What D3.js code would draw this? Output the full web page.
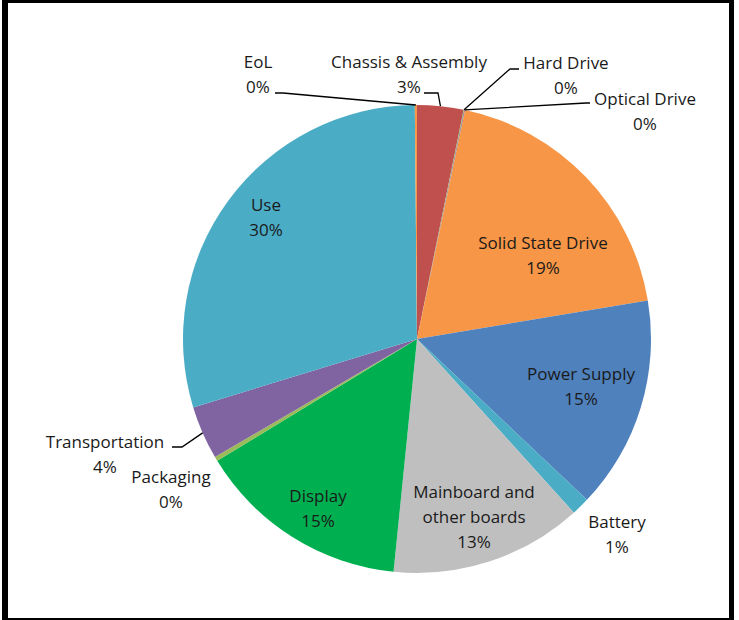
<!DOCTYPE html>
<html>
<head>
<meta charset="utf-8">
<script src="https://cdn.jsdelivr.net/npm/d3@7"></script>
<style>
  body { margin: 0; background: #fff; }
  text { font-family: "Open Sans", sans-serif; font-size: 17px; fill: #1a1a1a; }
</style>
</head>
<body>
<script>
// slice data, clockwise from 12 o'clock (percent of total)
var categories = ["Chassis & Assembly", "Hard Drive", "Optical Drive", "Solid State Drive",
                  "Power Supply", "Battery", "Mainboard and other boards", "Display",
                  "Packaging", "Transportation", "Use", "EoL"];
var shares = [3.2, 0.05, 0.05, 19.1, 14.7, 1.25, 13.3, 14.7, 0.3, 3.7, 29.6, 0.15];
var colours = ["#C0504D", "#9BBB59", "#8064A2", "#F79646", "#4F81BD", "#4BACC6",
               "#BFBFBF", "#00B050", "#9BBB59", "#8064A2", "#4BACC6", "#F79646"];

// label text lines (name split into lines)
var labelLines = [["Chassis & Assembly"], ["Hard Drive"], ["Optical Drive"], ["Solid State Drive"],
                  ["Power Supply"], ["Battery"], ["Mainboard and", "other boards"], ["Display"],
                  ["Packaging"], ["Transportation"], ["Use"], ["EoL"]];

// label layout: text centre x, first baseline y, optional leader elbow [start, elbow]
var labelLayout = [
  { x: 409, y: 68, leader: [[424, 93], [438, 93]] },
  { x: 566, y: 69, leader: [[519, 69], [510, 69]] },
  { x: 645, y: 105, leader: [[590, 103], [586, 103]] },
  { x: 543, y: 249 },
  { x: 581, y: 380 },
  { x: 617, y: 528 },
  { x: 474, y: 498 },
  { x: 318, y: 502 },
  { x: 171, y: 483 },
  { x: 105, y: 448, leader: [[172, 447], [182, 447]] },
  { x: 266, y: 211 },
  { x: 258, y: 68, leader: [[275, 93], [283, 93]] }
];

var W = 739, H = 620;
var cx = 417, cy = 339, R = 234;
var lineH = 25;

var svg = d3.select("body").append("svg")
  .attr("width", W)
  .attr("height", H);

// frame
svg.append("rect").attr("x", 0).attr("y", 0).attr("width", W).attr("height", H).attr("fill", "#fff");
svg.append("rect").attr("x", 2).attr("y", 0).attr("width", 6).attr("height", H).attr("fill", "#000");
svg.append("rect").attr("x", 2).attr("y", 0).attr("width", 732).attr("height", 3).attr("fill", "#000");
svg.append("rect").attr("x", 729).attr("y", 0).attr("width", 5).attr("height", H).attr("fill", "#000");
svg.append("rect").attr("x", 2).attr("y", 618).attr("width", 732).attr("height", 2).attr("fill", "#000");

var total = d3.sum(shares);
var pie = d3.pie().sort(null).value(function (d) { return d; });
var arcs = pie(shares);

var arc = d3.arc().innerRadius(0).outerRadius(R);
var rim = d3.arc().innerRadius(R).outerRadius(R);

var g = svg.append("g").attr("transform", "translate(" + cx + "," + cy + ")");

g.selectAll("path.slice")
  .data(arcs)
  .enter().append("path")
  .attr("class", "slice")
  .attr("d", arc)
  .attr("fill", function (d, i) { return colours[i]; });

// leader lines
arcs.forEach(function (a, i) {
  var lay = labelLayout[i];
  if (!lay.leader) return;
  var end = rim.centroid(a);
  var pts = lay.leader.map(function (p) { return [p[0] - cx, p[1] - cy]; });
  pts.push(end);
  g.append("path")
    .attr("d", d3.line()(pts))
    .attr("fill", "none")
    .attr("stroke", "#000")
    .attr("stroke-width", 1.3);
});

// labels
arcs.forEach(function (a, i) {
  var lay = labelLayout[i];
  var lines = labelLines[i].concat([Math.round(shares[i] / total * 100) + "%"]);
  var t = svg.append("text")
    .attr("text-anchor", "middle")
    .attr("x", lay.x)
    .attr("y", lay.y);
  lines.forEach(function (s, k) {
    t.append("tspan").attr("x", lay.x).attr("dy", k === 0 ? 0 : lineH).text(s);
  });
});
</script>
</body>
</html>
